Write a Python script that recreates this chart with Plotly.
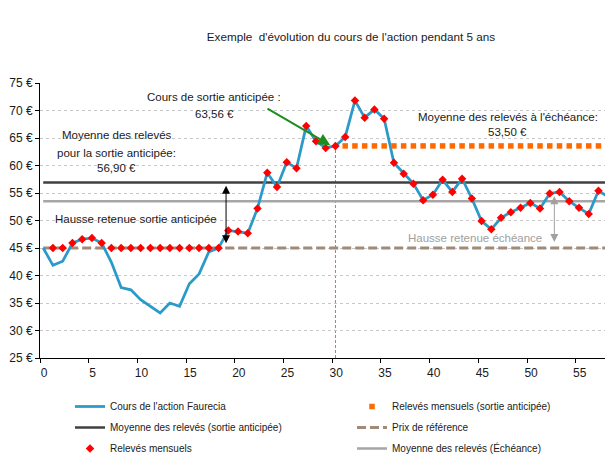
import plotly.graph_objects as go

# ---------------- data ----------------
months = list(range(59))
price = [45.0, 41.85, 42.6, 45.9, 46.6, 46.8, 45.9, 42.4, 37.8, 37.4,
         35.6, 34.4, 33.2, 35.0, 34.4, 38.5, 40.3, 44.3, 45.0, 48.2,
         48.0, 47.7, 52.2, 58.7, 56.1, 60.6, 59.5, 67.2, 64.4, 63.2,
         63.56, 65.2, 71.8, 68.7, 70.2, 68.5, 60.5, 58.5, 56.7, 53.7,
         54.7, 57.4, 55.2, 57.6, 54.0, 49.9, 48.4, 50.5, 51.5, 52.3,
         53.2, 52.2, 54.9, 55.2, 53.5, 52.3, 51.2, 55.4, 54.3]

releve_months = list(range(1, 58))
releves = [45.0, 45.0, 45.9, 46.6, 46.8, 45.9, 45.0, 45.0, 45.0, 45.0,
           45.0, 45.0, 45.0, 45.0, 45.0, 45.0, 45.0, 45.0, 48.2, 48.0,
           47.7, 52.2, 58.7, 56.1, 60.6, 59.5, 67.2, 64.4, 63.2, 63.56,
           65.2, 71.8, 68.7, 70.2, 68.5, 60.5, 58.5, 56.7, 53.7, 54.7,
           57.4, 55.2, 57.6, 54.0, 49.9, 48.4, 50.5, 51.5, 52.3, 53.2,
           52.2, 54.9, 55.2, 53.5, 52.3, 51.2, 55.4]

anticip_months = list(range(31, 58))
EXIT_MONTH = 30
EXIT_PRICE = 63.56
MEAN_ANTICIP = 56.90
MEAN_ECHEANCE = 53.50
REF_PRICE = 45.0

x_ticks = [0, 5, 10, 15, 20, 25, 30, 35, 40, 45, 50, 55]
y_ticks = [25, 30, 35, 40, 45, 50, 55, 60, 65, 70, 75]
y_tick_labels = [f"{v} €" for v in y_ticks]

SHIFT = 0.33  # observation date within the month
xs = [m + SHIFT for m in months]
xr = [m + SHIFT for m in releve_months]
xa = [m + SHIFT for m in anticip_months]
x_exit = EXIT_MONTH + SHIFT
span = [xs[0], xs[-1]]

FONT = "Liberation Sans, Arial, sans-serif"
TXT = "#1a1a1a"

BLUE = "#2A9AC8"
RED = "#FF0000"
ORANGE = "#FF6A00"
DARK = "#404040"
GREY = "#A6A6A6"
BROWN = "#A08A78"
GREEN = "#1E8C1E"

fig = go.Figure()

fig.add_trace(go.Scatter(x=span, y=[MEAN_ECHEANCE] * 2, mode="lines",
                         line=dict(color=GREY, width=2.5),
                         name="Moyenne des relevés (Échéance)",
                         legend="legend2", legendgroup="g6", legendrank=3))
fig.add_trace(go.Scatter(x=span, y=[MEAN_ANTICIP] * 2, mode="lines",
                         line=dict(color=DARK, width=2.5),
                         name="Moyenne des relevés (sortie anticipée)",
                         legend="legend", legendgroup="g3", legendrank=2))
fig.add_trace(go.Scatter(x=span, y=[REF_PRICE] * 2, mode="lines",
                         line=dict(color=BROWN, width=3, dash="9px,4px"),
                         name="Prix de référence",
                         legend="legend2", legendgroup="g4", legendrank=2))
fig.add_trace(go.Scatter(x=xs, y=price, mode="lines",
                         line=dict(color=BLUE, width=2.75),
                         name="Cours de l'action Faurecia",
                         legend="legend", legendgroup="g1", legendrank=1))
fig.add_trace(go.Scatter(x=xa, y=[EXIT_PRICE] * len(xa), mode="markers",
                         marker=dict(symbol="square", size=5.5, color=ORANGE),
                         name="Relevés mensuels (sortie anticipée)",
                         legend="legend2", legendgroup="g2", legendrank=1))
fig.add_trace(go.Scatter(x=xr, y=releves, mode="markers",
                         marker=dict(symbol="diamond", size=6.5, color=RED),
                         name="Relevés mensuels",
                         legend="legend", legendgroup="g5", legendrank=3))

fig.add_shape(type="line", xref="x", yref="y", x0=x_exit, x1=x_exit,
              y0=25, y1=EXIT_PRICE, line=dict(color=ORANGE, width=1, dash="3px,2px"),
              layer="below")


def text(x, y, s, color=TXT, size=11.5):
    fig.add_annotation(x=x, y=y, xref="x", yref="y", text=s, showarrow=False,
                       font=dict(family=FONT, size=size, color=color),
                       xanchor="center", yanchor="middle")


text(17.9, 72.4, "Cours de sortie anticipée :")
text(17.9, 69.4, "63,56 €")
text(7.9, 65.5, "Moyenne des relevés")
text(7.9, 62.3, "pour la sortie anticipée:")
text(7.9, 59.6, "56,90 €")
text(9.9, 50.2, "Hausse retenue sortie anticipée")
text(48.0, 68.9, "Moyenne des relevés à l'échéance:")
text(48.0, 66.1, "53,50 €")
text(44.7, 46.8, "Hausse retenue échéance", color="#A0A0A0")

# green arrow
fig.add_annotation(x=29.8, y=63.7, ax=23.2, ay=70.5, xref="x", yref="y",
                   axref="x", ayref="y", showarrow=True, arrowhead=2,
                   arrowsize=1.2, arrowwidth=2, arrowcolor=GREEN, text="")
# double arrows
fig.add_annotation(x=19.1, y=56.3, ax=19.1, ay=45.6, xref="x", yref="y",
                   axref="x", ayref="y", showarrow=True, arrowhead=2,
                   arrowside="end+start", arrowsize=1.6, arrowwidth=1,
                   arrowcolor="#000000", text="")
fig.add_annotation(x=52.8, y=54.4, ax=52.8, ay=45.8, xref="x", yref="y",
                   axref="x", ayref="y", showarrow=True, arrowhead=2,
                   arrowside="end+start", arrowsize=1.6, arrowwidth=1,
                   arrowcolor="#A0A0A0", text="")

legend_common = dict(orientation="v", xref="container", yref="container",
                     xanchor="left", yanchor="top", traceorder="grouped",
                     tracegroupgap=2, bgcolor="rgba(0,0,0,0)", borderwidth=0,
                     font=dict(family=FONT, size=10, color=TXT))

fig.update_layout(
    width=605, height=466,
    margin=dict(l=40, r=0, t=83, b=108, autoexpand=False),
    paper_bgcolor="white", plot_bgcolor="white",
    font=dict(family=FONT, size=12, color=TXT),
    title=dict(text="Exemple  d'évolution du cours de l'action pendant 5 ans",
               x=351 / 605, xanchor="center", xref="container",
               y=1 - 37 / 466, yanchor="middle", yref="container",
               font=dict(family=FONT, size=11.7, color=TXT)),
    showlegend=True,
    legend=dict(x=70 / 605, y=1 - 392 / 466, **legend_common),
    legend2=dict(x=352 / 605, y=1 - 392 / 466, **legend_common),
    xaxis=dict(range=[0, 58], tickvals=x_ticks, showgrid=False, zeroline=False,
               showline=True, linecolor="#000000", linewidth=1,
               ticks="outside", ticklen=4, tickcolor="#000000",
               ticklabelshift=4, tickfont=dict(family=FONT, size=12)),
    yaxis=dict(range=[25, 75], tickvals=y_ticks, ticktext=y_tick_labels,
               showgrid=True, gridcolor="#C8C8C8", griddash="dot", gridwidth=1,
               zeroline=False, showline=True, linecolor="#000000", linewidth=1,
               ticks="outside", ticklen=4, tickcolor="#000000",
               tickfont=dict(family=FONT, size=12)),
)

fig.write_html("out.html",
               config={"displayModeBar": False},
               post_script="document.body.style.margin='0';"
                           "document.body.style.overflow='hidden';")
